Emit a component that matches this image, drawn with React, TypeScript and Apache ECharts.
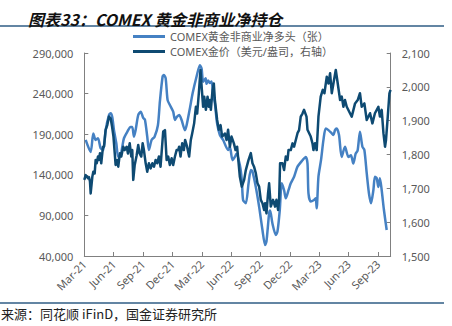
import React, { useEffect, useRef } from "react";
import * as echarts from "echarts";

// x positions are months after Mar-2021 (0 = Mar-21 tick)
const xTickLabels = ["Mar-21", "Jun-21", "Sep-21", "Dec-21", "Mar-22", "Jun-22", "Sep-22", "Dec-22", "Mar-23", "Jun-23", "Sep-23"];

const netLongMonths = [
  0.14, 0.65, 0.92, 1.16, 1.4, 1.67, 1.94, 2.18, 2.52, 2.69, 2.86, 3.03, 3.27, 3.47, 3.71, 3.88, 4.05, 4.39, 4.73, 4.9,
  5.07, 5.24, 5.51, 5.76, 6.02, 6.19, 6.43, 6.6, 6.88, 7.18, 7.52, 7.72, 8.0, 8.13, 8.31, 8.51, 8.74, 9.08, 9.26, 9.43,
  9.69, 9.94, 10.28, 10.45, 10.79, 11.06, 11.47, 11.81, 11.98, 12.14, 12.39, 12.49, 12.65, 12.83, 13.0, 13.16, 13.34, 13.57, 13.85, 14.18,
  14.69, 14.87, 15.14, 15.38, 15.55, 15.89, 16.09, 16.22, 16.5, 16.78, 17.01, 17.18, 17.52, 17.86, 18.2, 18.47, 18.61, 18.88, 18.98, 19.22,
  19.56, 19.73, 19.97, 20.17, 20.41, 20.58, 20.86, 21.09, 21.43, 21.78, 22.29, 22.62, 22.8, 22.9, 23.13, 23.47, 23.64, 23.74, 23.92, 24.18,
  24.43, 24.66, 24.94, 25.28, 25.45, 25.61, 25.78, 26.02, 26.29, 26.63, 26.98, 27.24, 27.48, 27.72, 27.92, 28.16, 28.41, 28.61, 28.85, 29.08,
  29.29, 29.53, 29.69, 29.87, 30.04, 30.2, 30.38, 30.61, 30.89,
];
const netLongValues = [
  183000, 168000, 191000, 183000, 185000, 172600, 170500, 195000, 213600, 215700, 211000, 195000, 178800, 162000, 164000, 174600, 185000, 193000, 199000, 199000,
  187000, 195000, 213600, 217700, 210000, 208000, 187000, 170500, 183000, 187000, 201000, 230000, 261000, 263000, 259000, 232000, 226000, 217700, 207500, 211000,
  213600, 207500, 195000, 201000, 222000, 240000, 261000, 275000, 271000, 254600, 258800, 252000, 256000, 253000, 255000, 240000, 228000, 203000, 189000, 183000,
  170500, 174600, 158000, 162000, 166000, 152000, 133600, 109000, 105000, 129500, 146000, 144000, 125000, 100700, 72000, 53500, 58000, 92600, 96000, 80000,
  66000, 70000, 96600, 129500, 121000, 111000, 121000, 129500, 137700, 150000, 158000, 162000, 154000, 117000, 107000, 109000, 111000, 98700, 137700, 158000,
  183000, 197000, 195000, 191000, 189000, 195000, 197000, 189000, 162000, 174600, 162000, 164000, 154000, 166000, 170000, 193000, 174600, 170500, 142000, 117000,
  105000, 121000, 137700, 136000, 125000, 135700, 121000, 96600, 72000,
];

const goldMonths = [
  0.0, 0.14, 0.38, 0.48, 0.58, 0.65, 0.82, 0.92, 1.06, 1.16, 1.27, 1.4, 1.5, 1.6, 1.73, 1.91, 2.01, 2.18, 2.35, 2.52,
  2.69, 2.84, 2.98, 3.2, 3.37, 3.47, 3.64, 3.78, 3.98, 4.12, 4.33, 4.46, 4.64, 4.8, 4.9, 5.0, 5.15, 5.35, 5.51, 5.65,
  5.82, 5.96, 6.09, 6.27, 6.43, 6.6, 6.78, 6.95, 7.12, 7.29, 7.45, 7.62, 7.79, 8.06, 8.24, 8.41, 8.57, 8.74, 8.92, 9.08,
  9.26, 9.43, 9.59, 9.69, 9.83, 10.0, 10.17, 10.3, 10.5, 10.71, 10.88, 11.02, 11.22, 11.4, 11.53, 11.7, 11.87, 12.01, 12.14, 12.25,
  12.42, 12.59, 12.72, 12.83, 12.93, 13.1, 13.23, 13.34, 13.57, 13.74, 13.92, 14.08, 14.36, 14.53, 14.69, 14.87, 15.04, 15.28, 15.45, 15.61,
  15.89, 16.09, 16.33, 16.5, 16.78, 17.01, 17.18, 17.34, 17.52, 17.69, 17.86, 18.03, 18.2, 18.37, 18.47, 18.61, 18.77, 18.88, 19.05, 19.28,
  19.49, 19.63, 19.8, 19.9, 20.0, 20.24, 20.41, 20.58, 20.76, 20.86, 21.09, 21.27, 21.43, 21.78, 21.94, 22.11, 22.29, 22.45, 22.7, 22.8,
  23.13, 23.31, 23.41, 23.57, 23.74, 23.92, 24.15, 24.36, 24.53, 24.77, 24.94, 25.11, 25.28, 25.51, 25.69, 25.89, 26.13, 26.3, 26.47, 26.63,
  26.81, 27.14, 27.32, 27.66, 27.93, 28.16, 28.34, 28.61, 28.85, 29.19, 29.43, 29.69, 30.04, 30.2, 30.38, 30.56, 30.72, 30.82, 31.0, 31.17,
  31.28,
];
const goldValues = [
  1725, 1739, 1730, 1733, 1720, 1685, 1734, 1749, 1744, 1784, 1774, 1794, 1784, 1804, 1774, 1823, 1823, 1873, 1887, 1912,
  1907, 1882, 1853, 1769, 1784, 1764, 1804, 1794, 1823, 1813, 1823, 1803, 1833, 1794, 1813, 1725, 1769, 1798, 1828, 1803,
  1794, 1833, 1813, 1774, 1749, 1774, 1759, 1774, 1764, 1784, 1774, 1794, 1764, 1868, 1872, 1784, 1794, 1769, 1789, 1769,
  1794, 1813, 1813, 1823, 1794, 1833, 1813, 1843, 1823, 1794, 1843, 1862, 1892, 1941, 1921, 1981, 2050, 1991, 1941, 1971,
  1932, 1971, 1941, 1961, 1932, 1991, 2010, 1961, 1902, 1873, 1887, 1853, 1862, 1843, 1873, 1823, 1853, 1833, 1813, 1823,
  1734, 1705, 1725, 1754, 1784, 1804, 1774, 1764, 1745, 1715, 1705, 1666, 1656, 1636, 1656, 1626, 1685, 1715, 1646, 1666,
  1646, 1666, 1636, 1666, 1774, 1774, 1754, 1794, 1784, 1813, 1813, 1833, 1823, 1863, 1872, 1912, 1921, 1932, 1912, 1873,
  1853, 1833, 1813, 1833, 1813, 1912, 1971, 1991, 1981, 2030, 2010, 2040, 1981, 2020, 2050, 2010, 1961, 1971, 1941, 1961,
  1941, 1922, 1912, 1951, 1961, 1981, 1941, 1951, 1902, 1922, 1892, 1922, 1941, 1912, 1932, 1863, 1823, 1843, 1912, 1981,
  1991,
];

const leftTicks = { min: 40000, max: 290000, interval: 50000 };
const rightTicks = { min: 1500, max: 2100, interval: 100 };

const seriesNames = ["COMEX黄金非商业净多头（张）", "COMEX金价（美元/盎司，右轴）"];
const titleText = "图表33：COMEX 黄金非商业净持仓";
const sourceText = "来源：同花顺 iFinD，国金证券研究所";

export default function App() {
  const ref = useRef<HTMLDivElement>(null);
  useEffect(() => {
    if (!ref.current) return;
    const chart = echarts.init(ref.current, undefined, { renderer: "svg" });
    const axisColor = "#808080";
    const labelColor = "#595959";
    const font = "'Noto Sans', 'Noto Sans CJK SC', sans-serif";
    chart.setOption({
      animation: false,
      textStyle: { fontFamily: font },
      title: {
        text: titleText,
        left: 23,
        top: 6,
        textStyle: { fontSize: 16, fontWeight: "bold", fontStyle: "italic", color: "#111", fontFamily: "'Noto Sans CJK SC', sans-serif" },
      },
      graphic: [
        { type: "line", shape: { x1: 0, y1: 26, x2: 444, y2: 26 }, style: { stroke: "#2F5C84", lineWidth: 1.5 } },
        { type: "line", shape: { x1: 0, y1: 303, x2: 444, y2: 303 }, style: { stroke: "#2F5C84", lineWidth: 1.5 } },
        {
          type: "text",
          left: 1,
          top: 307,
          style: { text: sourceText, fontSize: 13, fill: "#222", fontFamily: "'Noto Sans CJK SC', sans-serif" },
        },
      ],
      legend: {
        orient: "vertical",
        left: 133,
        top: 30,
        padding: 0,
        itemGap: 2,
        itemWidth: 32,
        itemHeight: 3,
        icon: "rect",
        textStyle: { fontSize: 11, color: labelColor, padding: [0, 0, 0, 0], lineHeight: 13 },
        data: seriesNames,
      },
      grid: { left: 84.3, right: 61.3, top: 53, bottom: 70 },
      xAxis: {
        type: "value",
        min: 0,
        max: 31.3,
        interval: 3,
        splitLine: { show: false },
        axisLine: { lineStyle: { color: axisColor, width: 1 } },
        axisTick: { inside: true, length: 4, lineStyle: { color: axisColor } },
        axisLabel: {
          rotate: 45,
          fontSize: 11,
          color: labelColor,
          margin: 6,
          showMaxLabel: false,
          formatter: (v: number) => {
            const i = Math.round(v / 3);
            return Math.abs(v - i * 3) < 1e-6 && xTickLabels[i] ? xTickLabels[i] : "";
          },
        },
      },
      yAxis: [
        {
          type: "value",
          ...leftTicks,
          position: "left",
          splitLine: { show: false },
          axisLine: { show: true, lineStyle: { color: axisColor } },
          axisTick: { show: true, inside: true, length: 4, lineStyle: { color: axisColor } },
          axisLabel: { fontSize: 11, color: labelColor, margin: 11, formatter: (v: number) => v.toLocaleString("en-US") },
        },
        {
          type: "value",
          ...rightTicks,
          position: "right",
          splitLine: { show: false },
          axisLine: { show: true, lineStyle: { color: axisColor } },
          axisTick: { show: true, inside: true, length: 4, lineStyle: { color: axisColor } },
          axisLabel: { fontSize: 11, color: labelColor, margin: 11, formatter: (v: number) => v.toLocaleString("en-US") },
        },
      ],
      series: [
        {
          name: seriesNames[0],
          type: "line",
          yAxisIndex: 0,
          showSymbol: false,
          smooth: 0.25,
          color: "#4581C3",
          lineStyle: { width: 2.5, color: "#4581C3" },
          data: netLongMonths.map((m, i) => [m, netLongValues[i]]),
        },
        {
          name: seriesNames[1],
          type: "line",
          yAxisIndex: 1,
          showSymbol: false,
          color: "#0E4A72",
          lineStyle: { width: 2.5, color: "#0E4A72", join: "round" },
          data: goldMonths.map((m, i) => [m, goldValues[i]]),
        },
      ],
    });
    return () => chart.dispose();
  }, []);
  return <div ref={ref} style={{ position: "fixed", left: 0, top: 0, width: 452, height: 326, background: "#fff" }} />;
}
